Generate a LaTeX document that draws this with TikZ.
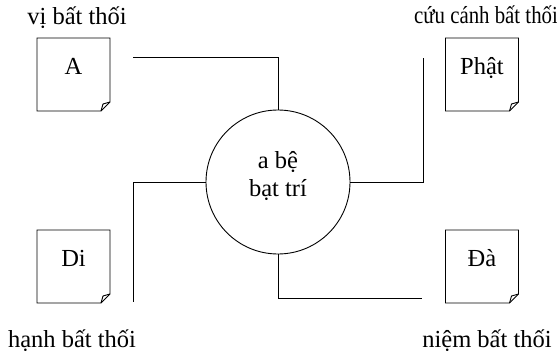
\documentclass[tikz,border=0pt]{standalone}
\usepackage{fontspec}
\setmainfont{Liberation Serif}
\usetikzlibrary{calc}
\tikzset{
  every node/.style={font=\fontsize{24.5}{28}\selectfont},
  line/.style={line width=0.9pt},
  notebox/.style={minimum width=73pt,minimum height=73pt,inner sep=0pt,outer sep=0pt,
    text height=12pt,text depth=12pt},
  hub/.style={draw,circle,line width=0.9pt,minimum size=144pt,inner sep=0pt,outer sep=0pt},
  hubtext/.style={align=center,inner sep=0pt},
  ntitle/.style={anchor=base,inner sep=0pt},
}

\begin{document}
\begin{tikzpicture}[x=1pt,y=1pt]
  \useasboundingbox (0,0) rectangle (557,-353);

  % ---------------- notes
  \node[notebox] (boxA)  at (73.5,-74.5)  {A};
  \node[notebox] (boxP)  at (482,-74.5)   {Phật};
  \node[notebox] (boxD)  at (73.5,-266.5) {Di};
  \node[notebox] (boxDa) at (482,-266.5)  {Đà};
  \foreach \n in {boxA,boxP,boxD,boxDa}{
    \draw[line,line join=miter] (\n.north west) -- (\n.north east) -- ([yshift=9pt]\n.south east)
      -- ([xshift=-9pt]\n.south east) -- (\n.south west) -- cycle;
    \draw[line,line join=miter] ([yshift=9pt]\n.south east) -- ([xshift=-7pt,yshift=7pt]\n.south east)
      -- ([xshift=-9pt]\n.south east);
  }

  % ---------------- captions
  \node[ntitle] (ttlA)  at (77,-25)   {vị bất thối};
  \node[ntitle,xscale=0.85,transform shape] (ttlP) at (486,-24) {cứu cánh bất thối};
  \node[ntitle] (ttlD)  at (72,-347)  {hạnh bất thối};
  \node[ntitle] (ttlDa) at (487,-347) {niệm bất thối};

  % ---------------- hub
  \node[hub] (hub) at (278,-182) {};
  \node[hubtext] (hubtxt) at (278,-176) {a bệ\\bạt trí};

  % ---------------- lines
  \coordinate (endA)  at (133,-57);
  \coordinate (endP)  at (423,-58);
  \coordinate (endD)  at (133,-302);
  \coordinate (endDa) at (422,-298);
  \draw[line] (endA) -| (hub.north);
  \draw[line] (hub.east) -| (endP);
  \draw[line] (hub.west) -| (endD);
  \draw[line] (hub.south) |- (endDa);
\end{tikzpicture}
\end{document}
